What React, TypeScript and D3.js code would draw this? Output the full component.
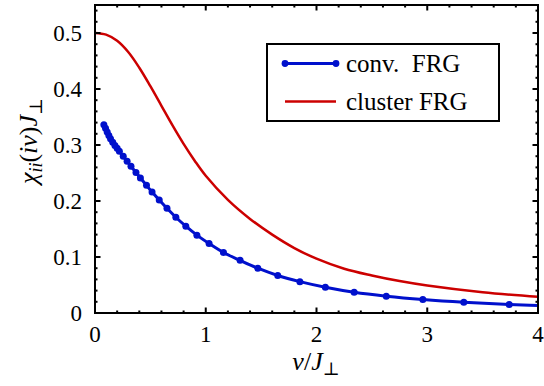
import * as d3 from 'd3';
import * as React from 'react';

// conv. FRG (blue, markers)
const nuConv = [
  0.08, 0.095, 0.11, 0.125, 0.14, 0.16, 0.18, 0.2, 0.22, 0.255, 0.29, 0.325, 0.37, 0.41, 0.465, 0.515, 0.58, 0.65,
  0.73, 0.82, 0.92, 1.03, 1.16, 1.31, 1.47, 1.65, 1.85, 2.08, 2.34, 2.63, 2.96, 3.33, 3.74, 4.19,
];
const chiConv = [
  0.336, 0.33, 0.323, 0.317, 0.311, 0.305, 0.299, 0.294, 0.289, 0.28, 0.271, 0.262, 0.251, 0.241, 0.228, 0.216, 0.202,
  0.187, 0.171, 0.155, 0.139, 0.124, 0.108, 0.094, 0.08, 0.067, 0.056, 0.046, 0.037, 0.03, 0.024, 0.019, 0.015, 0.012,
];

// cluster FRG (red, solid line)
const nuCluster = [0, 0.1, 0.2, 0.3, 0.4, 0.5, 0.6, 0.7, 0.8, 0.9, 1.0, 1.2, 1.4, 1.6, 1.8, 2.0, 2.25, 2.5, 2.75, 3.0, 3.5, 4.0];
const chiCluster = [
  0.5, 0.497, 0.486, 0.466, 0.438, 0.405, 0.37, 0.335, 0.302, 0.272, 0.245, 0.202, 0.168, 0.14, 0.116, 0.097, 0.079,
  0.067, 0.057, 0.049, 0.037, 0.029,
];

const xTicks = [0, 1, 2, 3, 4];
const xTickLabels = ['0', '1', '2', '3', '4'];
const yTicks = [0, 0.1, 0.2, 0.3, 0.4, 0.5];
const yTickLabels = ['0', '0.1', '0.2', '0.3', '0.4', '0.5'];
const legendLabels = ['conv.\u00a0 FRG', 'cluster FRG'];

const BLUE = '#0010cc';
const RED = '#cc0000';
const SERIF = "'Liberation Serif', 'DejaVu Serif', 'Times New Roman', Times, serif";

const Chart = () => {
  const ref = React.useRef<SVGSVGElement | null>(null);

  React.useEffect(() => {
    if (!ref.current) return;
    const svg = d3.select(ref.current);
    svg.selectAll('*').remove();

    const left = 95;
    const right = 538;
    const top = 5;
    const bottom = 313;

    const x = d3.scaleLinear().domain([0, 4]).range([left, right]);
    const y = d3.scaleLinear().domain([0, 0.55]).range([bottom, top]);

    svg
      .append('defs')
      .append('clipPath')
      .attr('id', 'plot-clip')
      .append('rect')
      .attr('x', left)
      .attr('y', top)
      .attr('width', right - left)
      .attr('height', bottom - top);

    const plot = svg.append('g').attr('clip-path', 'url(#plot-clip)');

    const red = nuCluster.map((v, i) => [v, chiCluster[i]] as [number, number]);
    const blue = nuConv.map((v, i) => [v, chiConv[i]] as [number, number]);

    const line = d3
      .line<[number, number]>()
      .x((d) => x(d[0]))
      .y((d) => y(d[1]))
      .curve(d3.curveCatmullRom.alpha(0.5));

    plot.append('path').datum(red).attr('fill', 'none').attr('stroke', RED).attr('stroke-width', 2.5).attr('d', line);
    plot.append('path').datum(blue).attr('fill', 'none').attr('stroke', BLUE).attr('stroke-width', 3).attr('d', line);
    plot
      .selectAll('circle.pt')
      .data(blue)
      .enter()
      .append('circle')
      .attr('class', 'pt')
      .attr('cx', (d) => x(d[0]))
      .attr('cy', (d) => y(d[1]))
      .attr('r', 3.5)
      .attr('fill', BLUE);

    // ticks on all four sides, inward
    const ticks = svg.append('g').attr('stroke', '#000').attr('stroke-width', 2);
    const xMinor = d3.range(0, 4.001, 0.2);
    const yMinor = d3.range(0, 0.5501, 0.02);
    xMinor.forEach((v) => {
      const major = Math.abs(v - Math.round(v)) < 1e-6;
      const len = major ? 5.5 : 2.5;
      ticks.append('line').attr('x1', x(v)).attr('x2', x(v)).attr('y1', bottom).attr('y2', bottom - len);
      ticks.append('line').attr('x1', x(v)).attr('x2', x(v)).attr('y1', top).attr('y2', top + len);
    });
    yMinor.forEach((v) => {
      const major = Math.abs(v * 10 - Math.round(v * 10)) < 1e-6;
      const len = major ? 5.5 : 2.5;
      ticks.append('line').attr('x1', left).attr('x2', left + len).attr('y1', y(v)).attr('y2', y(v));
      ticks.append('line').attr('x1', right).attr('x2', right - len).attr('y1', y(v)).attr('y2', y(v));
    });

    svg
      .append('rect')
      .attr('x', left)
      .attr('y', top)
      .attr('width', right - left)
      .attr('height', bottom - top)
      .attr('fill', 'none')
      .attr('stroke', '#000')
      .attr('stroke-width', 2);

    // tick labels
    svg
      .selectAll('text.xt')
      .data(xTicks)
      .enter()
      .append('text')
      .attr('x', (d) => x(d))
      .attr('y', 342)
      .attr('text-anchor', 'middle')
      .style('font-family', SERIF)
      .style('font-size', '23px')
      .text((d, i) => xTickLabels[i]);

    svg
      .selectAll('text.yt')
      .data(yTicks)
      .enter()
      .append('text')
      .attr('x', 82)
      .attr('y', (d) => y(d) + 8)
      .attr('text-anchor', 'end')
      .style('font-family', SERIF)
      .style('font-size', '23px')
      .text((d, i) => yTickLabels[i]);

    // axis titles
    const xt = svg
      .append('text')
      .attr('x', 316)
      .attr('y', 370)
      .attr('text-anchor', 'middle')
      .style('font-family', SERIF)
      .style('font-size', '26px');
    xt.append('tspan').style('font-style', 'italic').text('ν');
    xt.append('tspan').text('/');
    xt.append('tspan').style('font-style', 'italic').text('J');
    xt.append('tspan').attr('dy', 5).style('font-size', '18px').text('⊥');

    const yt = svg
      .append('text')
      .attr('transform', 'translate(37,141) rotate(-90)')
      .attr('text-anchor', 'middle')
      .style('font-family', SERIF)
      .style('font-size', '26px');
    yt.append('tspan').style('font-style', 'italic').text('χ');
    yt.append('tspan').attr('dy', 5).style('font-style', 'italic').style('font-size', '18px').text('ii');
    yt.append('tspan').attr('dy', -5).text('(');
    yt.append('tspan').style('font-style', 'italic').text('iν');
    yt.append('tspan').text(')');
    yt.append('tspan').style('font-style', 'italic').text('J');
    yt.append('tspan').attr('dy', 5).style('font-size', '18px').text('⊥');

    // legend
    const lg = svg.append('g');
    lg.append('rect')
      .attr('x', 267)
      .attr('y', 44)
      .attr('width', 232)
      .attr('height', 77)
      .attr('fill', '#fff')
      .attr('stroke', '#000')
      .attr('stroke-width', 2);
    lg.append('line').attr('x1', 285).attr('x2', 336).attr('y1', 63.5).attr('y2', 63.5).attr('stroke', BLUE).attr('stroke-width', 3);
    lg.append('circle').attr('cx', 285).attr('cy', 63.5).attr('r', 3.4).attr('fill', BLUE);
    lg.append('circle').attr('cx', 336).attr('cy', 63.5).attr('r', 3.4).attr('fill', BLUE);
    lg.append('line').attr('x1', 285).attr('x2', 336).attr('y1', 101.5).attr('y2', 101.5).attr('stroke', RED).attr('stroke-width', 2.5);
    lg.selectAll('text.lg')
      .data(legendLabels)
      .enter()
      .append('text')
      .attr('x', 346)
      .attr('y', (d, i) => (i === 0 ? 72 : 110))
      .style('font-family', SERIF)
      .style('font-size', '25px')
      .text((d) => d);
  }, []);

  return <svg ref={ref} width={544} height={386} style={{ position: 'absolute', left: 0, top: 0, background: '#fff' }} />;
};

export default function App() {
  return <Chart />;
}
